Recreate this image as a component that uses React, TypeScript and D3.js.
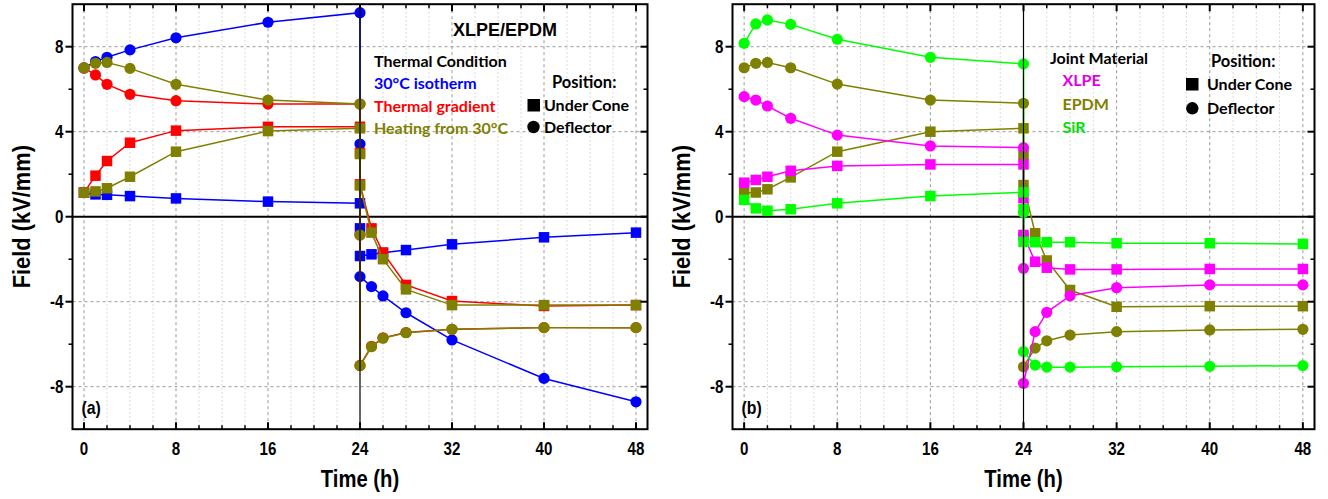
import React from 'react';
import * as d3 from 'd3';

// ---------- data ----------
const timeH = [0, 1, 2, 4, 8, 16, 24, 24, 24, 25, 26, 28, 32, 40, 48];
const xTicks = [0, 8, 16, 24, 32, 40, 48];
const yTicks = [-8, -4, 0, 4, 8];

// Panel (a): XLPE/EPDM, thermal conditions
const isothermCone = [1.13, 1.05, 1.03, 0.97, 0.86, 0.71, 0.63, -0.55, -1.85, -1.77, -1.7, -1.57, -1.3, -0.97, -0.75];
const isothermDefl = [7.0, 7.3, 7.5, 7.85, 8.42, 9.15, 9.6, 3.42, -2.82, -3.29, -3.73, -4.52, -5.8, -7.61, -8.71];
const gradientCone = [1.13, 1.93, 2.62, 3.48, 4.05, 4.23, 4.23, 3.0, 1.52, -0.55, -1.69, -3.21, -3.97, -4.2, -4.16];
const gradientDefl = [7.0, 6.67, 6.23, 5.76, 5.46, 5.3, 5.3, -0.86, -7.0, -6.1, -5.7, -5.45, -5.3, -5.22, -5.22];
const heatingCone = [1.13, 1.19, 1.34, 1.88, 3.06, 4.03, 4.16, 2.95, 1.47, -0.75, -2.0, -3.42, -4.16, -4.16, -4.16];
const heatingDefl = [7.0, 7.22, 7.26, 6.98, 6.23, 5.49, 5.3, -0.86, -7.01, -6.12, -5.72, -5.46, -5.3, -5.22, -5.22];

// Panel (b): joint materials
const xlpeCone = [1.6, 1.73, 1.88, 2.16, 2.39, 2.46, 2.46, 0.87, -0.86, -2.12, -2.4, -2.48, -2.48, -2.46, -2.46];
const xlpeDefl = [5.65, 5.49, 5.21, 4.63, 3.84, 3.33, 3.25, -2.43, -7.84, -5.41, -4.5, -3.72, -3.34, -3.21, -3.21];
const epdmCone = [1.13, 1.14, 1.29, 1.85, 3.06, 4.0, 4.16, 2.9, 1.49, -0.78, -2.06, -3.45, -4.24, -4.21, -4.21];
const epdmDefl = [7.01, 7.22, 7.26, 7.01, 6.24, 5.49, 5.34, -0.86, -7.06, -6.18, -5.84, -5.57, -5.41, -5.33, -5.3];
const sirCone = [0.79, 0.39, 0.28, 0.35, 0.63, 0.97, 1.15, 0.35, -1.18, -1.2, -1.2, -1.2, -1.25, -1.25, -1.28];
const sirDefl = [8.16, 9.07, 9.26, 9.05, 8.35, 7.5, 7.19, 0.2, -6.35, -6.98, -7.08, -7.08, -7.06, -7.04, -7.01];

const BLUE = '#0000FF';
const RED = '#FF0000';
const OLIVE = '#808000';
const MAGENTA = '#FF00FF';
const GREEN = '#00FF00';

type Series = { color: string; shape: 'square' | 'circle'; values: number[] };

const seriesA: Series[] = [
  { color: BLUE, shape: 'square', values: isothermCone },
  { color: BLUE, shape: 'circle', values: isothermDefl },
  { color: RED, shape: 'square', values: gradientCone },
  { color: RED, shape: 'circle', values: gradientDefl },
  { color: OLIVE, shape: 'square', values: heatingCone },
  { color: OLIVE, shape: 'circle', values: heatingDefl },
];
const seriesB: Series[] = [
  { color: OLIVE, shape: 'square', values: epdmCone },
  { color: OLIVE, shape: 'circle', values: epdmDefl },
  { color: MAGENTA, shape: 'square', values: xlpeCone },
  { color: MAGENTA, shape: 'circle', values: xlpeDefl },
  { color: GREEN, shape: 'square', values: sirCone },
  { color: GREEN, shape: 'circle', values: sirDefl },
];

const TICK_FONT = "'Liberation Sans', Arial, sans-serif";
const TITLE_FONT = "'Liberation Sans', Arial, sans-serif";
const LEG_FONT = "Lato, 'Open Sans', sans-serif";

type PanelProps = {
  x0: number; x1: number; series: Series[]; label: string; children?: React.ReactNode;
};

function Narrow({ x, y, size, anchor, k = 0.84, children }: { x: number; y: number; size: number; anchor: string; k?: number; children: React.ReactNode }) {
  return (
    <text transform={`translate(${x},${y}) scale(${k},1)`} textAnchor={anchor} fontFamily={TICK_FONT} fontWeight="bold" fontSize={size}>
      {children}
    </text>
  );
}

function Panel({ x0, x1, series, label, children }: PanelProps) {
  const top = 4.2, bottom = 429.2;
  const x = d3.scaleLinear().domain([-1, 49]).range([x0, x1]);
  const y = d3.scaleLinear().domain([10, -10]).range([top, bottom]);
  const minorX = d3.range(0, 49, 2).filter((t) => t % 8 !== 0);
  const minorY = [-6, -2, 2, 6];
  const line = d3.line<number>().x((_, i) => x(timeH[i])).y((v) => y(v));
  const sq = 10.5, r = 5.6;
  return (
    <g>
      {/* minor vertical grid */}
      {minorX.map((t) => (
        <line key={'mg' + t} x1={x(t)} x2={x(t)} y1={top} y2={bottom} stroke="#cfcfcf" strokeWidth={1} strokeDasharray="1.5,2.5" />
      ))}
      {xTicks.filter((t) => t !== 24).map((t) => (
        <line key={'vg' + t} x1={x(t)} x2={x(t)} y1={top} y2={bottom} stroke="#999" strokeWidth={1} strokeDasharray="3,3" />
      ))}
      {yTicks.filter((v) => v !== 0).map((v) => (
        <line key={'hg' + v} x1={x0} x2={x1} y1={y(v)} y2={y(v)} stroke="#999" strokeWidth={1} strokeDasharray="3,3" />
      ))}
      {/* zero line */}
      <line x1={x0} x2={x1} y1={y(0)} y2={y(0)} stroke="#000" strokeWidth={2} />
      {/* series */}
      {series.map((s, si) => (
        <g key={'s' + si}>
          <path d={line(s.values) || ''} fill="none" stroke={s.color} strokeWidth={1.5} />
          {s.values.map((v, i) =>
            s.shape === 'square' ? (
              <rect key={i} x={x(timeH[i]) - sq / 2} y={y(v) - sq / 2} width={sq} height={sq} fill={s.color} />
            ) : (
              <circle key={i} cx={x(timeH[i])} cy={y(v)} r={r} fill={s.color} />
            )
          )}
        </g>
      ))}
      {/* reversal line at 24 h */}
      <line x1={x(24)} x2={x(24)} y1={top} y2={bottom} stroke="#000" strokeWidth={1.2} />
      {/* ticks */}
      {xTicks.map((t) => (
        <g key={'xt' + t}>
          <line x1={x(t)} x2={x(t)} y1={bottom} y2={bottom - 7} stroke="#000" strokeWidth={2} />
          <line x1={x(t)} x2={x(t)} y1={top} y2={top + 7} stroke="#000" strokeWidth={2} />
          <Narrow x={x(t)} y={455} size={18} anchor="middle">{t}</Narrow>
        </g>
      ))}
      {minorX.map((t) => (
        <g key={'xm' + t}>
          <line x1={x(t)} x2={x(t)} y1={bottom} y2={bottom - 4} stroke="#000" strokeWidth={1.5} />
          <line x1={x(t)} x2={x(t)} y1={top} y2={top + 4} stroke="#000" strokeWidth={1.5} />
        </g>
      ))}
      {yTicks.map((v) => (
        <g key={'yt' + v}>
          <line x1={x0} x2={x0 - 7} y1={y(v)} y2={y(v)} stroke="#000" strokeWidth={2} />
          <line x1={x1} x2={x1 - 7} y1={y(v)} y2={y(v)} stroke="#000" strokeWidth={2} />
          <Narrow x={x0 - 9} y={y(v) + 6.5} size={18} anchor="end">{v}</Narrow>
        </g>
      ))}
      {minorY.map((v) => (
        <g key={'ym' + v}>
          <line x1={x0} x2={x0 - 4} y1={y(v)} y2={y(v)} stroke="#000" strokeWidth={1.5} />
          <line x1={x1} x2={x1 - 4} y1={y(v)} y2={y(v)} stroke="#000" strokeWidth={1.5} />
        </g>
      ))}
      {/* frame */}
      <rect x={x0} y={top} width={x1 - x0} height={bottom - top} fill="none" stroke="#000" strokeWidth={2} />
      {/* titles */}
      <Narrow x={x(24)} y={487} size={23} anchor="middle" k={0.88}>Time (h)</Narrow>
      <text transform={`translate(${x0 - 43},${y(0)}) rotate(-90) scale(0.95,1)`} textAnchor="middle" fontFamily={TITLE_FONT} fontWeight="bold" fontSize={23}>Field (kV/mm)</text>
      <Narrow x={x(-1) + 9} y={414} size={18} anchor="start" k={0.88}>{label}</Narrow>
      {children}
    </g>
  );
}

export default function App() {
  return (
    <svg width={1328} height={499} style={{ position: 'absolute', left: 0, top: 0, background: '#fff' }}>
      <rect width={1328} height={499} fill="#fff" />
      <Panel x0={72.5} x1={647.5} series={seriesA} label="(a)">
        <text x={505} y={36} textAnchor="middle" fontFamily={TITLE_FONT} fontWeight="bold" fontSize={18}>XLPE/EPDM</text>
        <g fontFamily={LEG_FONT} fontWeight="bold" fontSize={16}>
          <text x={374} y={67} fill="#000">Thermal Condition</text>
          <text x={374} y={89} fill={BLUE}>30°C isotherm</text>
          <text x={374} y={112} fill={RED}>Thermal gradient</text>
          <text x={374} y={134} fill={OLIVE}>Heating from 30°C</text>
          <text x={552} y={88} fill="#000" fontSize={16.5}>Position:</text>
          <rect x={527.5} y={99} width={12.5} height={12.5} fill="#000" />
          <text x={544} y={111} fill="#000">Under Cone</text>
          <circle cx={533.5} cy={127} r={6.2} fill="#000" />
          <text x={544} y={133} fill="#000">Deflector</text>
        </g>
      </Panel>
      <Panel x0={732.5} x1={1314.5} series={seriesB} label="(b)">
        <g fontFamily={LEG_FONT} fontWeight="bold" fontSize={16}>
          <text x={1050} y={63.5} fill="#000">Joint Material</text>
          <text x={1062.5} y={86} fill="#E000E0">XLPE</text>
          <text x={1062.5} y={110} fill={OLIVE}>EPDM</text>
          <text x={1062.5} y={133} fill="#00E000">SiR</text>
          <text x={1211} y={67} fill="#000" fontSize={16.5}>Position:</text>
          <rect x={1186} y={78} width={12.5} height={12.5} fill="#000" />
          <text x={1207} y={89.5} fill="#000">Under Cone</text>
          <circle cx={1192.3} cy={108.3} r={6.2} fill="#000" />
          <text x={1207} y={113.5} fill="#000">Deflector</text>
        </g>
      </Panel>
    </svg>
  );
}
